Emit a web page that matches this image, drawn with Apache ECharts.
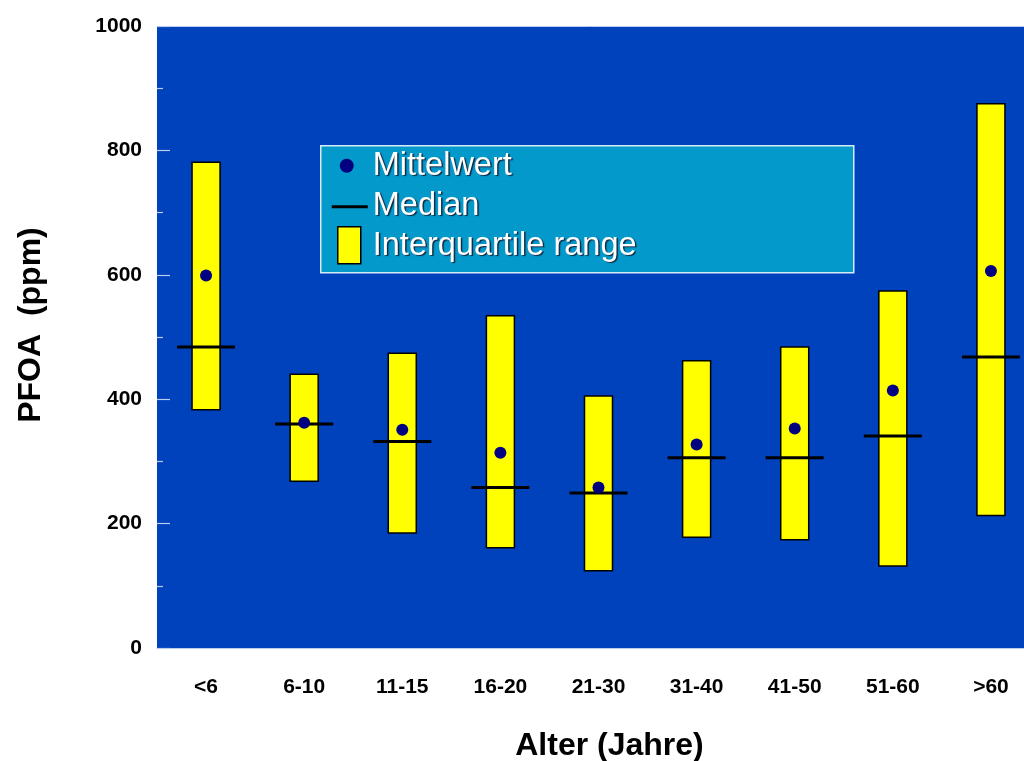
<!DOCTYPE html>
<html>
<head>
<meta charset="utf-8">
<script src="https://cdn.jsdelivr.net/npm/echarts@6/dist/echarts.min.js"></script>
<style>
  html, body { margin: 0; padding: 0; background: #ffffff; }
  #chart { width: 1024px; height: 761px; }
</style>
</head>
<body>
<div id="chart"></div>
<script>
// PFOA concentration by age group: interquartile range, median and mean
const categories = ['<6', '6-10', '11-15', '16-20', '21-30', '31-40', '41-50', '51-60', '>60'];
const q1Values = [383, 268, 185, 161, 124, 178, 174, 132, 213];
const q3Values = [781, 440, 474, 534, 405, 462, 484, 574, 875];
const medianValues = [484, 360, 332, 258, 249, 306, 306, 341, 468];
const meanValues = [599, 362, 351, 314, 258, 327, 353, 414, 606];
const yTicks = [0, 200, 400, 600, 800, 1000];

const FONT = '"Liberation Sans", Arial, Helvetica, sans-serif';
const PLOT_BG = '#0041BC';
const EDGE = '#b9cdf0';

const chart = echarts.init(document.getElementById('chart'), null, { renderer: 'canvas' });

const boxData = categories.map((c, i) => [i, q1Values[i], q3Values[i]]);
const medianData = categories.map((c, i) => [i, medianValues[i]]);
const meanData = categories.map((c, i) => [i, meanValues[i]]);

const legendTextStyle = {
  fill: '#ffffff',
  font: 'normal 32.5px ' + FONT,
  textShadowColor: 'rgba(20,20,40,0.85)',
  textShadowOffsetX: 1.5,
  textShadowOffsetY: 1.5,
  textShadowBlur: 1,
  verticalAlign: 'middle'
};

chart.setOption({
  animation: false,
  backgroundColor: '#ffffff',
  grid: {
    left: 157,
    top: 26,
    width: 883,
    height: 622,
    containLabel: false,
    outerBoundsMode: 'none',
    show: true,
    backgroundColor: PLOT_BG,
    borderWidth: 0
  },
  xAxis: [{
    type: 'category',
    data: categories,
    position: 'bottom',
    boundaryGap: true,
    axisLine: { show: true, lineStyle: { color: EDGE, width: 1 } },
    axisTick: { show: false },
    splitLine: { show: false },
    axisLabel: {
      margin: 29,
      color: '#000000',
      fontFamily: FONT,
      fontWeight: 'bold',
      fontSize: 21
    },
    name: 'Alter (Jahre)',
    nameLocation: 'middle',
    nameGap: 82,
    nameTextStyle: {
      color: '#000000',
      fontFamily: FONT,
      fontWeight: 'bold',
      fontSize: 32,
      padding: [0, 0, 0, 22]
    }
  }, {
    type: 'category',
    data: categories,
    position: 'top',
    axisLine: { show: true, lineStyle: { color: EDGE, width: 1 } },
    axisTick: { show: false },
    axisLabel: { show: false }
  }],
  yAxis: {
    type: 'value',
    min: yTicks[0],
    max: yTicks[yTicks.length - 1],
    interval: 200,
    axisLine: { show: false },
    axisTick: { show: true, inside: true, length: 13, lineStyle: { color: EDGE, width: 1.2 } },
    minorTick: { show: true, splitNumber: 2, length: 6, lineStyle: { color: EDGE, width: 1.2 } },
    splitLine: { show: false },
    axisLabel: {
      margin: 15,
      color: '#000000',
      fontFamily: FONT,
      fontWeight: 'bold',
      fontSize: 21,
      formatter: function (v) { return String(v); }
    },
    name: 'PFOA  (ppm)',
    nameLocation: 'middle',
    nameRotate: 90,
    nameGap: 110,
    nameTextStyle: {
      color: '#000000',
      fontFamily: FONT,
      fontWeight: 'bold',
      fontSize: 32,
      padding: [0, 0, 0, 24]
    }
  },
  series: [
    {
      name: 'Interquartile range',
      type: 'custom',
      data: boxData,
      encode: { x: 0, y: [1, 2] },
      z: 2,
      renderItem: function (params, api) {
        const idx = api.value(0);
        const lo = api.coord([idx, api.value(1)]);
        const hi = api.coord([idx, api.value(2)]);
        const w = 28;
        return {
          type: 'rect',
          shape: { x: lo[0] - w / 2, y: hi[1], width: w, height: lo[1] - hi[1] },
          style: { fill: '#FFFF00', stroke: '#000000', lineWidth: 1.5 }
        };
      }
    },
    {
      name: 'Median',
      type: 'scatter',
      data: medianData,
      symbol: 'rect',
      symbolSize: [58, 3],
      itemStyle: { color: '#000000', opacity: 1 },
      z: 3
    },
    {
      name: 'Mittelwert',
      type: 'scatter',
      data: meanData,
      symbol: 'circle',
      symbolSize: 12,
      itemStyle: { color: '#000080', opacity: 1 },
      z: 4
    }
  ],
  graphic: [
    {
      type: 'group',
      left: 320,
      top: 145,
      z: 10,
      children: [
        {
          type: 'rect',
          shape: { x: 0, y: 0, width: 533, height: 127 },
          style: { fill: '#0399CB', stroke: '#d8ecf8', lineWidth: 1.5 }
        },
        {
          type: 'circle',
          shape: { cx: 26, cy: 20, r: 7 },
          style: { fill: '#000080' }
        },
        {
          type: 'text',
          x: 52, y: 20,
          style: Object.assign({ text: 'Mittelwert' }, legendTextStyle)
        },
        {
          type: 'line',
          shape: { x1: 11, y1: 61, x2: 47, y2: 61 },
          style: { stroke: '#000000', lineWidth: 3 }
        },
        {
          type: 'text',
          x: 52, y: 60,
          style: Object.assign({ text: 'Median' }, legendTextStyle)
        },
        {
          type: 'rect',
          shape: { x: 17, y: 81, width: 23, height: 37 },
          style: { fill: '#FFFF00', stroke: '#000000', lineWidth: 1.5 }
        },
        {
          type: 'text',
          x: 52, y: 100,
          style: Object.assign({ text: 'Interquartile range' }, legendTextStyle)
        }
      ]
    }
  ]
});
</script>
</body>
</html>
